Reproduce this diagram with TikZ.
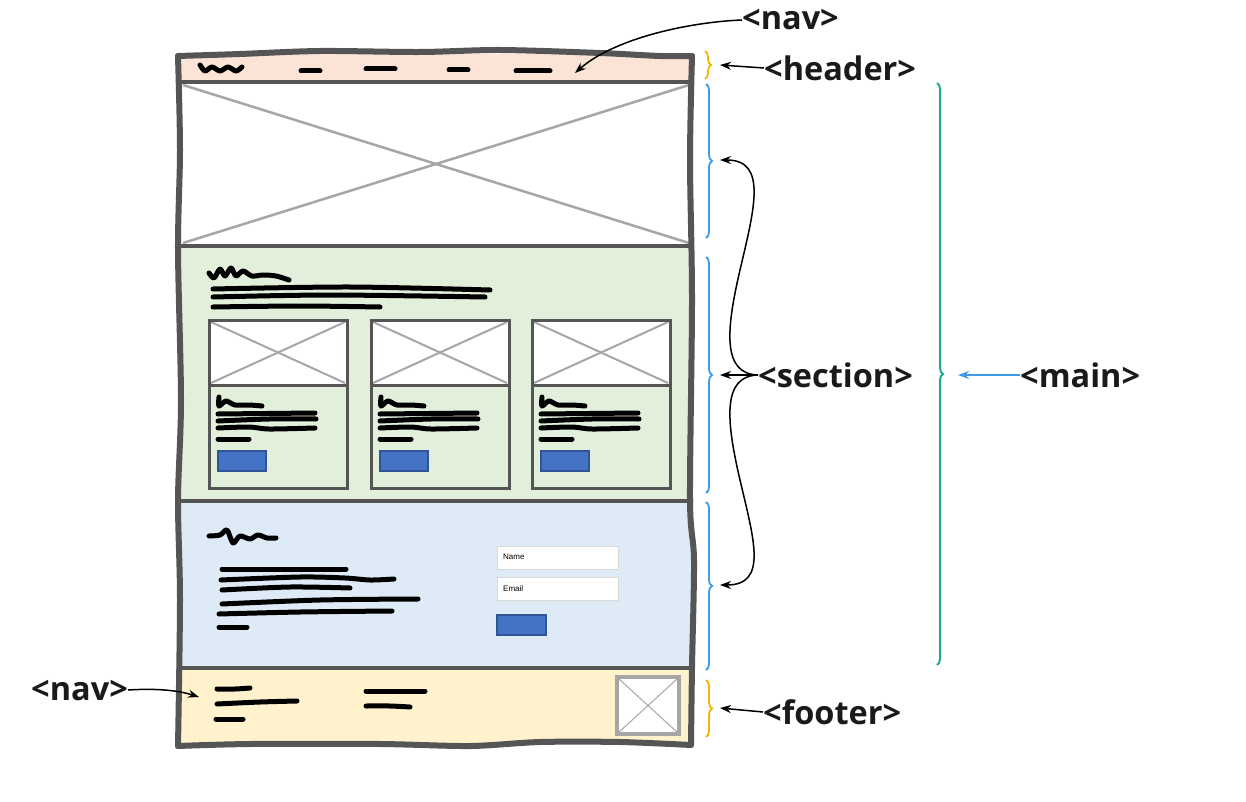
\documentclass[tikz,border=0pt]{standalone}
\usepackage{fontspec}
\setmainfont{Open Sans}
\newfontfamily\formfont{Liberation Sans}
\usetikzlibrary{arrows.meta,decorations.pathreplacing}
\definecolor{frame}{HTML}{555555}
\definecolor{xgray}{HTML}{A6A6A6}
\definecolor{hdrfill}{HTML}{FBE3D6}
\definecolor{grnfill}{HTML}{E2EFDA}
\definecolor{blufill}{HTML}{DEEBF7}
\definecolor{ftrfill}{HTML}{FFF2CC}
\definecolor{btnfill}{HTML}{4472C4}
\definecolor{btnedge}{HTML}{2F5597}
\definecolor{bracegold}{HTML}{F4B400}
\definecolor{braceblue}{HTML}{3C9AE6}
\definecolor{braceteal}{HTML}{1BA98A}
\definecolor{ink}{HTML}{1A1A1A}
\tikzset{
  frameline/.style={draw=frame,line width=6pt,line cap=round,line join=round},
  divline/.style={draw=frame,line width=4.5pt,line cap=round},
  xline/.style={draw=xgray,line width=2.5pt},
  cardbox/.style={draw=frame,line width=3pt},
  scribble/.style={draw=black,line width=5pt,line cap=round,line join=round},
  btn/.style={fill=btnfill,draw=btnedge,line width=1.5pt},
  inputbox/.style={fill=white,draw=black!15,line width=1pt},
  tag/.style={font=\fontsize{32.5}{34}\selectfont\bfseries,text=ink,inner sep=0pt},
  pointer/.style={draw=black,line width=1.5pt,-{Stealth[length=11pt,width=8pt]}},
  bluepointer/.style={draw=braceblue,line width=1.8pt,-{Stealth[length=11pt,width=8pt]}},
  bracedeco/.style={decorate,decoration={brace,amplitude=6pt}},
}
\begin{document}
\begin{tikzpicture}[x=1pt,y=-1pt]
\useasboundingbox (0,0) rectangle (1246,802);
% fills
\fill[hdrfill] (180,54) rectangle (691,82);
\fill[white] (180,82) rectangle (691,246);
\fill[grnfill] (180,246) rectangle (691,501);
\fill[blufill] (180,501) rectangle (691,668);
\fill[ftrfill] (180,668) rectangle (691,744);
% hero X
\draw[xline] (183,85) -- (689,243);
\draw[xline] (183,243) -- (689,85);
% header nav scribbles
\draw[scribble] plot[smooth] coordinates {(200,65) (205,71) (212,67) (220,71) (228,67) (236,71) (242,67)};
\draw[scribble] (301,71) -- (320,71);
\draw[scribble] (366,69) -- (395,69);
\draw[scribble] (449,70) -- (468,70);
\draw[scribble] (516,71) -- (550,71);
% green section heading
\draw[scribble] plot[smooth] coordinates {(209,273) (214,278) (220,269) (225,276) (231,268) (236,276) (243,271) (252,276) (263,275) (276,276) (289,280)};
\draw[scribble] plot[smooth] coordinates {(213,289) (350,287) (490,290)};
\draw[scribble] plot[smooth] coordinates {(213,297) (330,295) (485,297)};
\draw[scribble] plot[smooth] coordinates {(213,307) (300,306) (380,307)};
% cards
\foreach \cx/\nm in {209/a,371/b,532/c}{
  \fill[white] (\cx,320) rectangle ++(138,65);
  \draw[xline,line width=2pt] (\cx+2,322) -- (\cx+136,383);
  \draw[xline,line width=2pt] (\cx+2,383) -- (\cx+136,322);
  \draw[cardbox] (\cx,320) rectangle ++(138,168);
  \draw[cardbox] (\cx,385) -- ++(138,0);
  \draw[scribble] plot[smooth] coordinates {(\cx+10,397) (\cx+10,406) (\cx+17,401) (\cx+26,405) (\cx+40,405) (\cx+53,406)};
  \draw[scribble] (\cx+9,414) -- (\cx+106,413);
  \draw[scribble] plot[smooth] coordinates {(\cx+9,421) (\cx+60,419) (\cx+107,419)};
  \draw[scribble] plot[smooth] coordinates {(\cx+9,428) (\cx+40,427) (\cx+60,429) (\cx+106,428)};
  \draw[scribble] (\cx+9,439) -- (\cx+40,439);
  \node[btn,minimum width=48pt,minimum height=20pt,inner sep=0pt] (btn\nm) at (\cx+33,461) {};
}
% blue section content
\draw[scribble] plot[smooth] coordinates {(209,536) (220,535) (227,530) (233,543) (240,536) (250,539) (258,535) (267,538) (276,538)};
\draw[scribble] (222,569) -- (346,569);
\draw[scribble] plot[smooth] coordinates {(221,580) (300,577) (345,578) (370,580) (394,579)};
\draw[scribble] plot[smooth] coordinates {(222,590) (290,587) (350,588)};
\draw[scribble] plot[smooth] coordinates {(222,604) (320,600) (418,599)};
\draw[scribble] plot[smooth] coordinates {(219,614) (300,612) (392,611)};
\draw[scribble] (219,627) -- (247,627);
\node[inputbox,minimum width=121pt,minimum height=23pt,inner sep=0pt] (namebox) at (557.5,557.5) {};
\node[anchor=west,font=\formfont\fontsize{8}{9}\selectfont,inner sep=0pt] (namelbl) at (503,557) {Name};
\node[inputbox,minimum width=121pt,minimum height=23pt,inner sep=0pt] (emailbox) at (557.5,589) {};
\node[anchor=west,font=\formfont\fontsize{8}{9}\selectfont,inner sep=0pt] (emaillbl) at (503,589) {Email};
\node[btn,minimum width=49pt,minimum height=20pt,inner sep=0pt] (sendbtn) at (521.5,625) {};
% footer content
\draw[scribble] plot[smooth] coordinates {(217,689) (235,689) (250,688)};
\draw[scribble] plot[smooth] coordinates {(217,704) (260,702) (297,701)};
\draw[scribble] (216,719) -- (243,719);
\draw[scribble] (366,691) -- (425,691);
\draw[scribble] plot[smooth] coordinates {(366,706) (390,706) (410,707)};
\fill[white] (617,677) rectangle (679,734);
\draw[xgray,line width=1pt] (619,679) -- (677,732);
\draw[xgray,line width=1pt] (619,732) -- (677,679);
\draw[xgray,line width=4pt] (617,677) rectangle (679,734);
% dividers
\draw[divline] (180,82) -- (691,82);
\draw[divline] (180,246) -- (691,246);
\draw[divline] (180,501) -- (691,501);
\draw[divline] (180,668) -- (691,668);
% outer frame (hand drawn)
\draw[frameline] plot[smooth] coordinates {(178,56) (240,54) (320,51) (420,52) (500,50) (600,53) (660,56) (692,56)};
\draw[frameline] plot[smooth] coordinates {(692,56) (690,160) (692,300) (690,500) (694,560) (692,667) (691,745)};
\draw[frameline] plot[smooth] coordinates {(691,745) (620,742) (540,742) (470,746) (380,744) (250,744) (178,746)};
\draw[frameline] plot[smooth] coordinates {(178,746) (180,600) (178,500) (181,400) (178,250) (180,150) (178,56)};
% braces
\draw[bracegold,line width=1.8pt,bracedeco] (705,51) -- (705,79);
\draw[braceblue,line width=1.8pt,bracedeco] (706,84) -- (706,238);
\draw[braceblue,line width=1.8pt,bracedeco] (706,257) -- (706,493);
\draw[braceblue,line width=1.8pt,bracedeco] (706,502) -- (706,670);
\draw[bracegold,line width=1.8pt,bracedeco] (706,680) -- (706,737);
\draw[braceteal,line width=2pt,bracedeco] (937,83) -- (937,665);
% labels
\node[tag,anchor=west] (navtop) at (742,20) {<nav>};
\node[tag,anchor=west] (header) at (764,68) {<header>};
\node[tag,anchor=west] (section) at (758,375) {<section>};
\node[tag,anchor=west] (main) at (1020,375) {<main>};
\node[tag,anchor=west] (footer) at (763,712) {<footer>};
\node[tag,anchor=east] (navbot) at (128,690) {<nav>};
% arrow targets
\coordinate (navtgt) at (575,73);
\coordinate (hdrtgt) at (720,65);
\coordinate (sec1) at (720,160);
\coordinate (sec2) at (720,375);
\coordinate (sec3) at (720,585);
\coordinate (maintgt) at (958,375);
\coordinate (ftrtgt) at (720,708);
\coordinate (navbtgt) at (199,697);
% connectors
\draw[pointer] (navtop.west) .. controls (690,22) and (615,38) .. (navtgt);
\draw[pointer] (header.west) -- (hdrtgt);
\draw[pointer] (section.west) .. controls (722,374) and (726,330) .. (740,270) .. controls (754,210) and (768,160) .. (sec1);
\draw[pointer] (section.west) -- (sec2);
\draw[pointer] (section.west) .. controls (722,376) and (726,420) .. (740,480) .. controls (754,540) and (768,585) .. (sec3);
\draw[bluepointer] (main.west) -- (maintgt);
\draw[pointer] (footer.west) -- (ftrtgt);
\draw[pointer] (navbot.east) .. controls (160,688) and (180,691) .. (navbtgt);
\end{tikzpicture}
\end{document}
